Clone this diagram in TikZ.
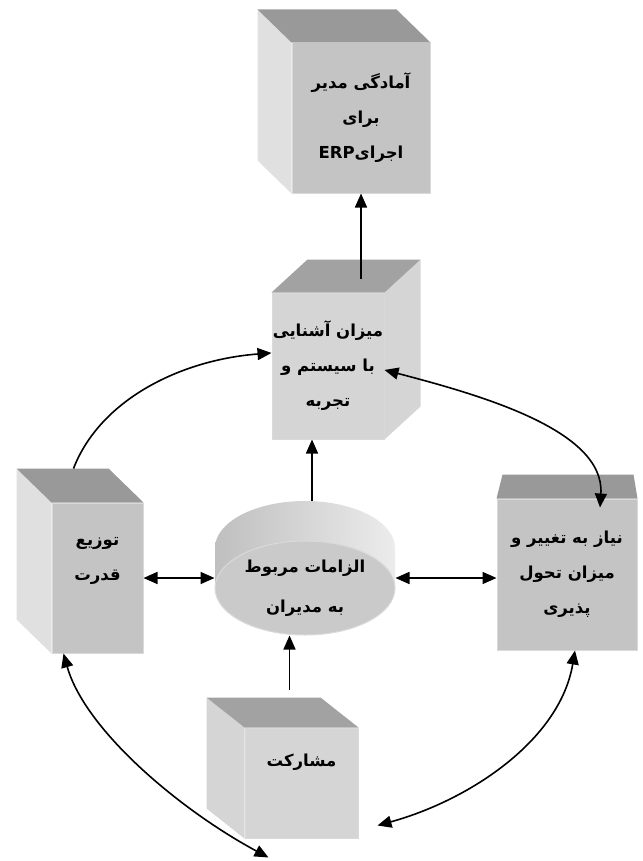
\documentclass[tikz,border=0pt]{standalone}
\usepackage{fontspec}
\usetikzlibrary{shapes.geometric,arrows.meta}
\newfontfamily\persian[Script=Arabic]{DejaVu Sans}
\TeXXeTstate=1

\definecolor{topgray}{HTML}{999999}
\definecolor{frontgray}{HTML}{C4C4C4}
\definecolor{sidegray}{HTML}{E0E0E0}
\definecolor{lightfront}{HTML}{D5D5D5}
\definecolor{lighttop}{HTML}{A2A2A2}
\definecolor{edgegray}{HTML}{DADADA}
\definecolor{diskgray}{HTML}{CACACA}

\tikzset{
  face/.style={rectangle, fill=#1, draw=edgegray, line width=1pt, inner sep=0pt,
    font=\persian\bfseries\fontsize{16.5}{35}\selectfont, align=center},
  disk/.style={ellipse, fill=diskgray, draw=edgegray, line width=1pt, inner sep=0pt,
    font=\persian\bfseries\fontsize{16.5}{40}\selectfont, align=center},
  arr/.style={-{Triangle[length=14pt,width=12pt]}, line width=1.6pt},
  darr/.style={{Triangle[length=14pt,width=12pt]}-{Triangle[length=14pt,width=12pt]}, line width=1.6pt},
}

\begin{document}
\begin{tikzpicture}[x=1pt,y=-1pt]
\useasboundingbox (0,0) rectangle (642,861);

% cylinder band
\shade[left color=gray!50, right color=gray!15] (305,548) ellipse [x radius=90, y radius=47];
\shade[left color=gray!50, right color=gray!15] (215,548) rectangle (395,588);

% front faces
\node[face=frontgray, minimum width=138pt, minimum height=150pt] (erp) at (361,118)
  {\beginR آمادگی مدیر\endR\\ \beginR برای\endR\\ \beginR اجرای\beginL ERP\endL\endR};
\node[face=lightfront, minimum width=112pt, minimum height=146pt] (ashna) at (328,366)
  {\beginR میزان آشنایی\endR\\ \beginR با سیستم و\endR\\ \beginR تجربه\endR};
\node[face=frontgray, minimum width=91pt, minimum height=150pt, text depth=38pt] (tozi) at (97.5,578)
  {\beginR توزیع\endR\\ \beginR قدرت\endR};
\node[disk, minimum width=180pt, minimum height=94pt] (elzam) at (305,588)
  {\beginR الزامات مربوط\endR\\ \beginR به مدیران\endR};
\node[face=frontgray, minimum width=140pt, minimum height=151pt] (niaz) at (567,574.5)
  {\beginR نیاز به تغییر و\endR\\ \beginR میزان تحول\endR\\ \beginR پذیری\endR};
\node[face=lightfront, minimum width=113pt, minimum height=110pt, text depth=46pt] (mosh) at (301.5,783)
  {\beginR مشارکت\endR};

% side and top faces
\fill[sidegray] (erp.north west) -- ++(-34,-33) -- ([shift={(-34,-33)}]erp.south west) -- (erp.south west) -- cycle;
\fill[topgray] (erp.north west) -- ++(-34,-33) -- ([shift={(-34,-33)}]erp.north east) -- (erp.north east) -- cycle;

\fill[lightfront] (ashna.north east) -- ++(36,-33) -- ([shift={(36,-33)}]ashna.south east) -- (ashna.south east) -- cycle;
\fill[lighttop] (ashna.north west) -- ++(36,-33) -- ([shift={(36,-33)}]ashna.north east) -- (ashna.north east) -- cycle;

\fill[sidegray] (tozi.north west) -- ++(-35,-34) -- ([shift={(-35,-34)}]tozi.south west) -- (tozi.south west) -- cycle;
\fill[topgray] (tozi.north west) -- ++(-35,-34) -- ([shift={(-35,-34)}]tozi.north east) -- (tozi.north east) -- cycle;

\fill[topgray] (niaz.north west) -- ++(6,-24) -- ([shift={(-4,-24)}]niaz.north east) -- (niaz.north east) -- cycle;

\fill[lightfront] (mosh.north west) -- ++(-38,-30) -- ([shift={(-38,-30)}]mosh.south west) -- (mosh.south west) -- cycle;
\fill[lighttop] (mosh.north west) -- ++(-38,-30) -- ([shift={(-38,-30)}]mosh.north east) -- (mosh.north east) -- cycle;

% straight arrows
\coordinate (elzamtop) at ([shift={(7,-87)}]elzam.center);
\coordinate (moshtop) at ([shift={(-12,-38)}]mosh.north);
\draw[arr] ([shift={(33,-14)}]ashna.north) -- (erp.south);
\draw[arr] (elzamtop) -- (elzamtop |- ashna.south);
\draw[arr] (moshtop) -- (moshtop |- elzam.south);
\draw[darr] (tozi.east) -- (tozi.east -| elzam.west);
\draw[darr] (elzam.east |- tozi.east) -- (niaz.west |- tozi.east);

% curved arrows
\draw[arr] ([shift={(-24,-34)}]tozi.north) .. controls (100,400) and (180,360) .. (ashna.167);
\draw[darr] (ashna.-4) .. controls (480,395) and (605,430) .. ([shift={(33,9)}]niaz.north);
\draw[darr] ([shift={(-34,0)}]tozi.south) .. controls (85,730) and (180,810) .. ([shift={(-33,19)}]mosh.south);
\draw[darr] ([shift={(8,0)}]niaz.south) .. controls (560,740) and (470,800) .. ([shift={(19,-13)}]mosh.south east);
\end{tikzpicture}
\end{document}
